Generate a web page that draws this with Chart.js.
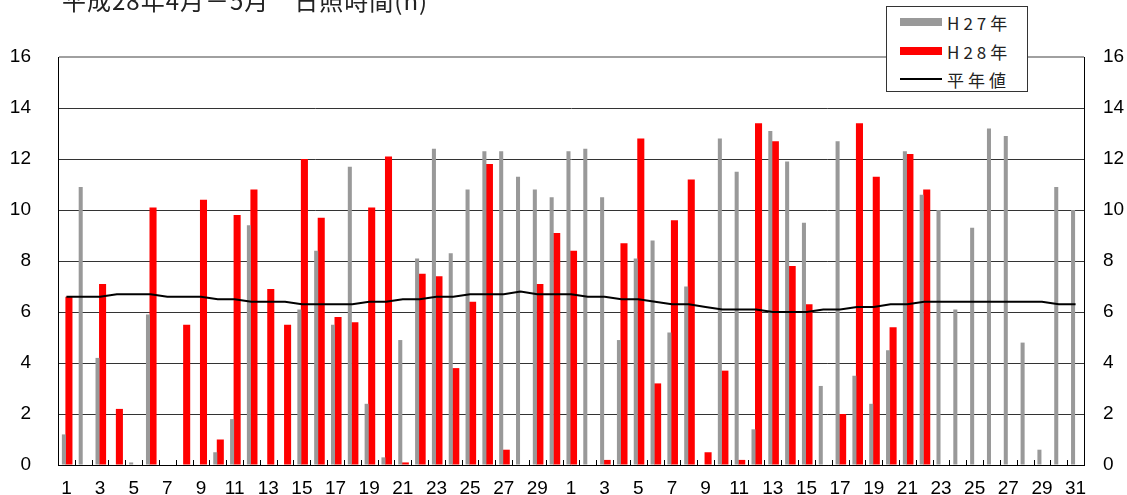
<!DOCTYPE html>
<html>
<head>
<meta charset="utf-8">
<script src="https://cdn.jsdelivr.net/npm/chart.js@4.4.1/dist/chart.umd.min.js"></script>
<style>
  html, body { margin: 0; padding: 0; background: #fff; overflow: hidden; }
  #wrap { position: relative; width: 1127px; height: 495px; }
  canvas { display: block; }
  #title {
    position: absolute; left: 62px; top: -18px; white-space: pre;
    font: 24px "Noto Sans CJK JP", sans-serif; color: #222; letter-spacing: 1px;
  }
  #legend {
    position: absolute; left: 886px; top: 6px; width: 142px; height: 86px;
    border: 1px solid #333; background: #fff; box-sizing: border-box;
    font: 17px "Noto Sans CJK JP", sans-serif; color: #222; letter-spacing: 4px;
  }
  .item { position: absolute; left: 13px; height: 20px; display: flex; align-items: center; }
  .sw { width: 42px; margin-right: 5px; }
</style>
</head>
<body>
<div id="wrap">
  <canvas id="c" width="1127" height="495"></canvas>
  <div id="title">平成28年4月－5月　日照時間(h)</div>
  <div id="legend">
    <div class="item" style="top:5px"><span class="sw" style="height:8px;background:#999"></span>H27年</div>
    <div class="item" style="top:34px"><span class="sw" style="height:8px;background:#ff0000"></span>H28年</div>
    <div class="item" style="top:62px"><span class="sw" style="height:2px;background:#000"></span>平年値</div>
  </div>
</div>
<script>
const days = [
  "1","2","3","4","5","6","7","8","9","10","11","12","13","14","15","16","17","18","19","20",
  "21","22","23","24","25","26","27","28","29","30",
  "1","2","3","4","5","6","7","8","9","10","11","12","13","14","15","16","17","18","19","20",
  "21","22","23","24","25","26","27","28","29","30","31"
];

// H27 (grey)
const h27 = [
  1.2, 10.9, 4.2, 0, 0.1, 5.9, 0, 0, 0, 0.5, 1.8, 9.4, 0, 0, 6.1, 8.4, 5.5, 11.7, 2.4, 0.3,
  4.9, 8.1, 12.4, 8.3, 10.8, 12.3, 12.3, 11.3, 10.8, 10.5,
  12.3, 12.4, 10.5, 4.9, 8.1, 8.8, 5.2, 7.0, 0, 12.8, 11.5, 1.4, 13.1, 11.9, 9.5, 3.1, 12.7, 3.5, 2.4, 4.5,
  12.3, 10.6, 10.0, 6.1, 9.3, 13.2, 12.9, 4.8, 0.6, 10.9, 10.0
];

// H28 (red)
const h28 = [
  6.6, 0, 7.1, 2.2, 0, 10.1, 0, 5.5, 10.4, 1.0, 9.8, 10.8, 6.9, 5.5, 12.0, 9.7, 5.8, 5.6, 10.1, 12.1,
  0.1, 7.5, 7.4, 3.8, 6.4, 11.8, 0.6, 0, 7.1, 9.1,
  8.4, 0, 0.2, 8.7, 12.8, 3.2, 9.6, 11.2, 0.5, 3.7, 0.2, 13.4, 12.7, 7.8, 6.3, 0, 2.0, 13.4, 11.3, 5.4,
  12.2, 10.8, null, null, null, null, null, null, null, null, null
];

// 平年値
const normal = [
  6.6, 6.6, 6.6, 6.7, 6.7, 6.7, 6.6, 6.6, 6.6, 6.5, 6.5, 6.4, 6.4, 6.4, 6.3, 6.3, 6.3, 6.3, 6.4, 6.4,
  6.5, 6.5, 6.6, 6.6, 6.7, 6.7, 6.7, 6.8, 6.7, 6.7,
  6.7, 6.6, 6.6, 6.5, 6.5, 6.4, 6.3, 6.3, 6.2, 6.1, 6.1, 6.1, 6.0, 6.0, 6.0, 6.1, 6.1, 6.2, 6.2, 6.3,
  6.3, 6.4, 6.4, 6.4, 6.4, 6.4, 6.4, 6.4, 6.4, 6.3, 6.3
];

const yTicks = [0, 2, 4, 6, 8, 10, 12, 14, 16];

const FONT = { family: "'Liberation Sans', Arial, sans-serif", size: 19 };

// small tick marks pointing up from the x axis, at category boundaries
const innerTicks = {
  id: "innerTicks",
  afterDatasetsDraw(chart) {
    const x = chart.scales.x, a = chart.chartArea, c = chart.ctx;
    const half = (x.getPixelForValue(1) - x.getPixelForValue(0)) / 2;
    c.save();
    c.strokeStyle = "#000";
    c.lineWidth = 1;
    c.beginPath();
    for (let i = 0; i <= days.length; i++) {
      const px = Math.round(x.getPixelForValue(i) - half) + 0.5;
      c.moveTo(px, a.bottom);
      c.lineTo(px, a.bottom - 5);
    }
    c.stroke();
    c.restore();
  },
};

new Chart(document.getElementById("c"), {
  type: "bar",
  data: {
    labels: days,
    datasets: [
      {
        label: "H27年",
        data: h27,
        backgroundColor: "#999999",
        barPercentage: 0.8,
        categoryPercentage: 0.6,
        order: 1,
        yAxisID: "y",
      },
      {
        label: "H28年",
        data: h28,
        backgroundColor: "#ff0000",
        barPercentage: 1.4,
        categoryPercentage: 0.6,
        order: 1,
        yAxisID: "y",
      },
      {
        type: "line",
        label: "平年値",
        data: normal,
        borderColor: "#000",
        borderWidth: 2,
        pointRadius: 0,
        tension: 0,
        order: 0,
        yAxisID: "y",
      },
    ],
  },
  options: {
    responsive: false,
    animation: false,
    layout: { padding: { top: 57, left: 0, right: 0, bottom: 0 } },
    plugins: { legend: { display: false }, tooltip: { enabled: false } },
    scales: {
      x: {
        offset: true,
        grid: { display: false, drawTicks: false },
        border: { display: true, color: "#000", width: 1 },
        ticks: {
          autoSkip: false,
          maxRotation: 0,
          padding: 12,
          color: "#000",
          font: FONT,
          callback: (v, i) => (Number(days[i]) % 2 === 1 ? days[i] : ""),
        },
        afterFit: (s) => { s.height = 30; },
      },
      y: {
        position: "left",
        min: 0,
        max: 16,
        afterBuildTicks: (s) => { s.ticks = yTicks.map((v) => ({ value: v })); },
        grid: {
          color: (ctx) => (ctx.tick && ctx.tick.value === 16 ? "#a0a0a0" : "#333"),
          lineWidth: (ctx) => (ctx.tick && ctx.tick.value === 16 ? 2 : 1),
          drawTicks: true,
          tickLength: 27,
          tickColor: "rgba(0,0,0,0)",
        },
        border: { display: true, color: "#000", width: 1 },
        ticks: { color: "#000", font: FONT, padding: 0 },
        afterFit: (s) => { s.width = 58; },
      },
      y2: {
        position: "right",
        min: 0,
        max: 16,
        afterBuildTicks: (s) => { s.ticks = yTicks.map((v) => ({ value: v })); },
        grid: { drawOnChartArea: false, drawTicks: true, tickLength: 19, tickColor: "rgba(0,0,0,0)" },
        border: { display: true, color: "#000", width: 1 },
        ticks: { color: "#000", font: FONT, padding: 0 },
        afterFit: (s) => { s.width = 43; },
      },
    },
  },
  plugins: [innerTicks],
});
</script>
</body>
</html>
